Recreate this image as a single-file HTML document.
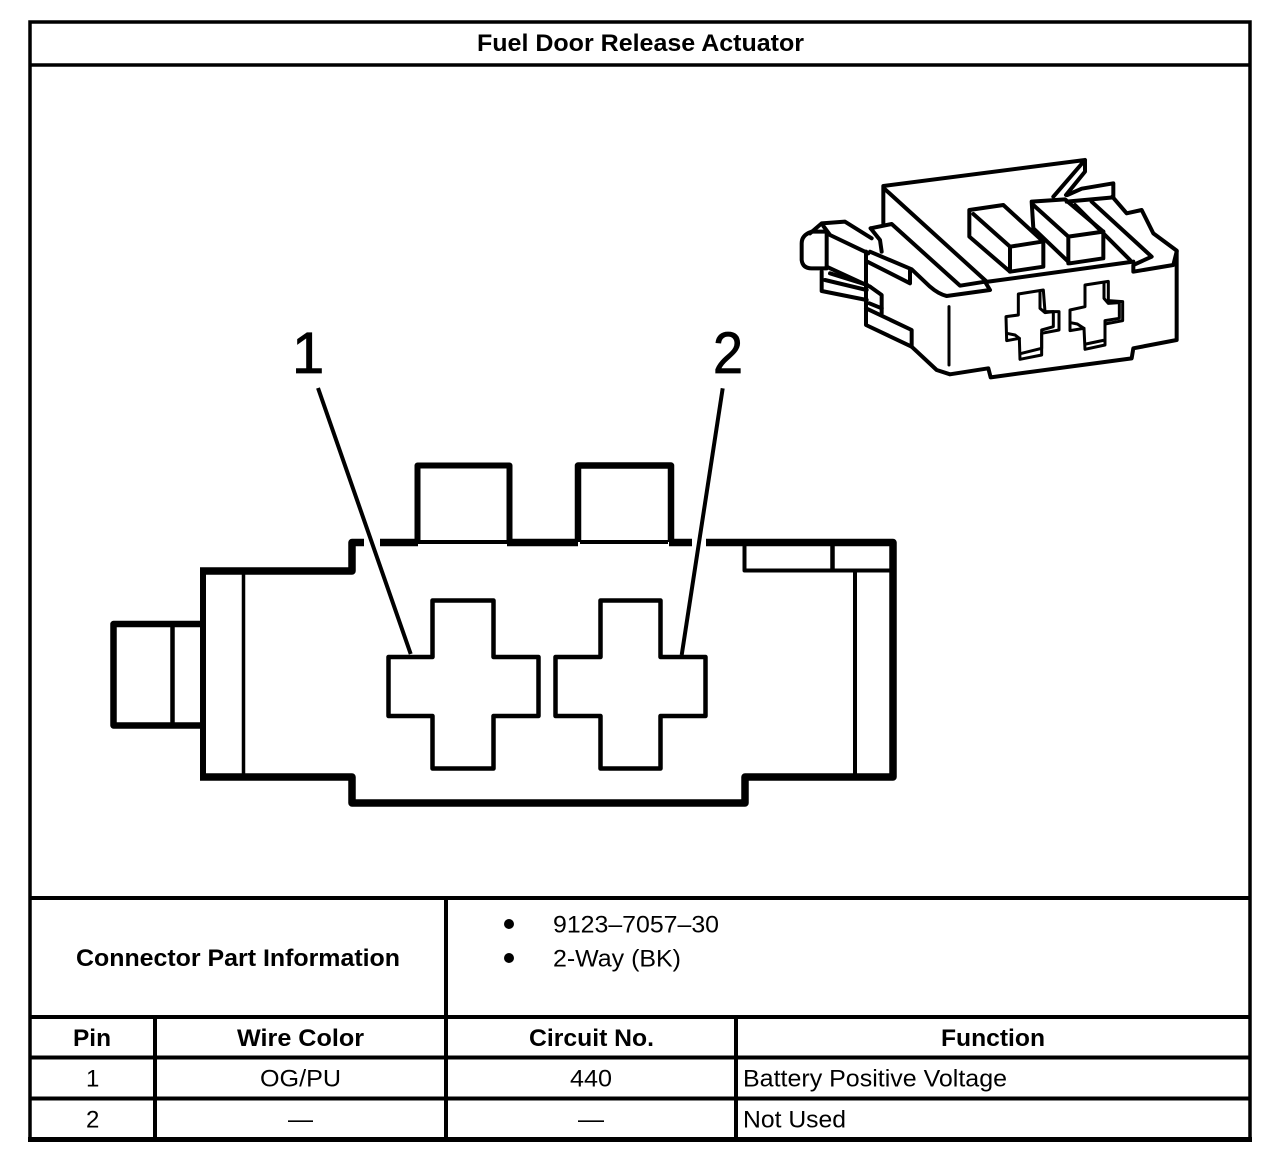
<!DOCTYPE html>
<html>
<head>
<meta charset="utf-8">
<style>
html,body{margin:0;padding:0;background:#fff;width:1280px;height:1158px;overflow:hidden}
svg{display:block}
text{font-family:"Liberation Sans",Arial,sans-serif;fill:#000}
.b{font-size:24px;font-weight:bold}
.n{font-size:24px}
</style>
</head>
<body>
<svg width="1280" height="1158" viewBox="0 0 1280 1158" xmlns="http://www.w3.org/2000/svg">
<rect width="1280" height="1158" fill="#fff"/>

<!-- frame and table -->
<g stroke="#000" stroke-width="3.500" fill="none">
  <rect x="30" y="22" width="1220" height="1117.500"/>
  <path d="M30 65H1250"/>
  <path stroke-width="4" d="M30 898H1250M30 1017H1250M30 1057.500H1250M30 1098.500H1250"/>
  <path stroke-width="4" d="M446 898V1140M155 1017V1140M736 1017V1140"/>
</g>
<rect x="28" y="1137" width="1224" height="5" fill="#000"/>

<!-- table text -->
<text class="b" x="477" y="51" textLength="327" lengthAdjust="spacingAndGlyphs">Fuel Door Release Actuator</text>
<text class="b" x="76" y="966" textLength="324" lengthAdjust="spacingAndGlyphs">Connector Part Information</text>
<circle cx="509" cy="924" r="5" fill="#000"/>
<circle cx="509" cy="958" r="5" fill="#000"/>
<text class="n" x="553" y="932.500" textLength="166" lengthAdjust="spacingAndGlyphs">9123–7057–30</text>
<text class="n" x="553" y="966.500" textLength="128" lengthAdjust="spacingAndGlyphs">2-Way (BK)</text>
<text class="b" x="73" y="1046" textLength="38" lengthAdjust="spacingAndGlyphs">Pin</text>
<text class="b" x="237" y="1046" textLength="127" lengthAdjust="spacingAndGlyphs">Wire Color</text>
<text class="b" x="529" y="1046" textLength="125" lengthAdjust="spacingAndGlyphs">Circuit No.</text>
<text class="b" x="941" y="1046" textLength="104" lengthAdjust="spacingAndGlyphs">Function</text>
<text class="n" x="86" y="1086.500">1</text>
<text class="n" x="260" y="1086.500" textLength="81" lengthAdjust="spacingAndGlyphs">OG/PU</text>
<text class="n" x="570" y="1086.500" textLength="42" lengthAdjust="spacingAndGlyphs">440</text>
<text class="n" x="743" y="1086.500" textLength="264" lengthAdjust="spacingAndGlyphs">Battery Positive Voltage</text>
<text class="n" x="86" y="1127.500">2</text>
<text class="n" x="288" y="1127.500" textLength="25" lengthAdjust="spacingAndGlyphs">—</text>
<text class="n" x="578" y="1127.500" textLength="26" lengthAdjust="spacingAndGlyphs">—</text>
<text class="n" x="743" y="1127.500" textLength="103" lengthAdjust="spacingAndGlyphs">Not Used</text>

<!-- main connector face -->
<g fill="none" stroke="#000" stroke-linejoin="round">
  <path stroke-width="6.500" d="M203 624H113.500V725.500H203"/>
  <path stroke-width="4.500" d="M172.500 626V723"/>
  <path stroke-width="6" d="M203 568V780"/>
  <path stroke-width="7.500" d="M200 571H352V542.500H364"/>
  <path stroke-width="7.500" d="M380 542.500H418"/>
  <path stroke-width="6" d="M417.500 542V465.500H509.500V542"/>
  <path stroke-width="4" d="M418 542H507"/>
  <path stroke-width="7.500" d="M507 542.500H578"/>
  <path stroke-width="6.500" d="M578 542V465.500H671V542"/>
  <path stroke-width="4" d="M580 542H668"/>
  <path stroke-width="7.500" d="M669 542.500H692"/>
  <path stroke-width="7.500" d="M706 542.500H893V777H745V803H352V777H200"/>
  <path stroke-width="3.500" d="M243.500 573V775"/>
  <path stroke-width="4" d="M744.500 545V570.500H891"/>
  <path stroke-width="4.500" d="M832.500 545V570"/>
  <path stroke-width="4" d="M855 571V775"/>
  <path stroke-width="4.500" d="M388.500 657H432.500V600.500H493.500V657H538.500V716H493.500V768.500H432.500V716H388.500Z"/>
  <path stroke-width="4.500" d="M555.500 657H600.500V600.500H660.500V657H705.500V716H660.500V768.500H600.500V716H555.500Z"/>
  <path stroke-width="4" d="M318 388L410.700 654"/>
  <path stroke-width="4" d="M722.700 388.300L681.700 655"/>
</g>
<text x="292" y="373" style="font-size:58px;stroke:#000;stroke-width:.8px">1</text>
<text x="713" y="373" style="font-size:58px;stroke:#000;stroke-width:.8px" textLength="30" lengthAdjust="spacingAndGlyphs">2</text>

<!-- isometric connector -->
<g transform="translate(780 140) scale(.33333)" fill="none" stroke="#000" stroke-width="12" stroke-linejoin="round" stroke-linecap="round">
  <!-- top plate -->
  <path d="M310 250V138L915 60V95L858 165M915 60L820 170"/>
  <path d="M312 145L620 425"/>
  <!-- back right strip -->
  <path d="M862 165L905 146L1000 130V172L860 185"/>
  <path d="M997 170L1040 220L1085 210L1120 280L1190 332"/>
  <!-- ridge -->
  <path d="M272 265L335 252L540 437L615 425L630 450L500 468Q475 462 450 440L395 388L270 335"/>
  <path d="M272 265L300 300L305 335"/>
  <!-- tab 1 -->
  <path d="M568 210L670 195L790 305V380L690 395L568 290Z"/>
  <path d="M580 222L690 320L785 305M690 320V395"/>
  <!-- tab 2 -->
  <path d="M755 185L855 178L970 275V355L870 370L760 265Z"/>
  <path d="M760 195L865 290L970 275M865 290V370"/>
  <!-- strip beside tab 2 -->
  <path d="M885 195L1050 360M935 185L1115 350L1060 375V395L1180 375L1190 335"/>
  <!-- front top edge -->
  <path d="M625 425L1060 365"/>
  <!-- body -->
  <path d="M1190 335V600L1060 625L1055 655L632 712L625 685L510 703L470 690L395 620L258 555V335"/>
  <path d="M258 505L395 570V620"/>
  <path d="M262 365L390 430V388"/>
  <path d="M270 440L305 465V520"/>
  <path d="M268 490L305 505"/>
  <path stroke-width="9" d="M507 500V675"/>
  <!-- latch -->
  <path d="M140 275H95Q65 285 65 310V360Q68 385 95 385H140V275"/>
  <path d="M90 280L125 250L195 245L275 295"/>
  <path d="M130 258L150 285L265 340"/>
  <path d="M140 380L270 440"/>
  <path d="M125 395V453L260 480M135 420L260 450M150 400L262 435"/>
  <!-- cross holes -->
  <g stroke-width="9">
    <path d="M678 530L715 525V462L790 450L795 515H837V570L785 580V645L720 658L718 595L680 602Z"/>
    <path d="M780 455V505L795 518L820 515V560L785 570V625L725 640M680 580L705 585L718 595"/>
    <path d="M870 510L915 500V435L985 424V482L1028 485V542L975 552V615L915 628L912 565L870 572Z"/>
    <path d="M972 430V475L985 490L1018 488V535L975 542V600L918 612M872 548L892 552L912 565"/>
  </g>
</g>
</svg>
</body>
</html>
